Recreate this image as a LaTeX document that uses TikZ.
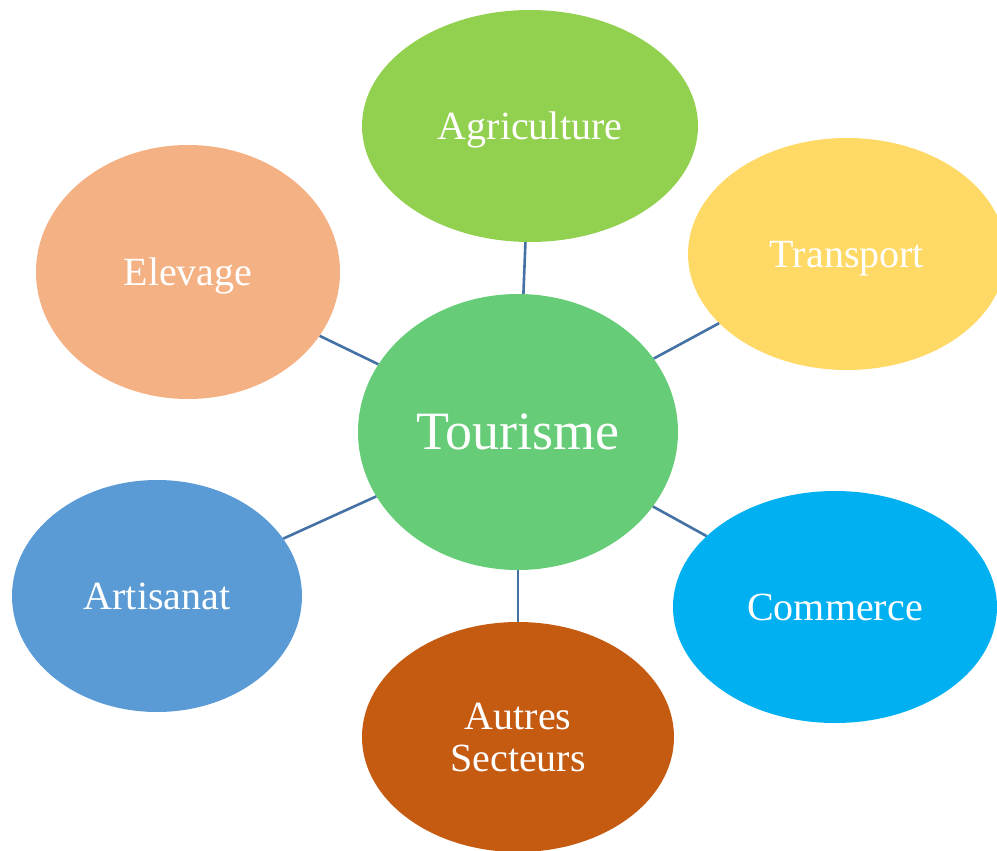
\documentclass[tikz,border=0pt]{standalone}
\usepackage{fontspec}
\setmainfont{Liberation Serif}
\usetikzlibrary{shapes.geometric}
\definecolor{cTour}{HTML}{66CC77}
\definecolor{cAgri}{HTML}{92D050}
\definecolor{cTrans}{HTML}{FFD966}
\definecolor{cElev}{HTML}{F4B183}
\definecolor{cArt}{HTML}{5B9BD5}
\definecolor{cAut}{HTML}{C55A11}
\definecolor{cCom}{HTML}{00B0F0}
\definecolor{cLine}{HTML}{4472A4}
\tikzset{
  blob/.style={ellipse, inner sep=0pt, text=white, align=center,
    font=\fontsize{40}{42}\selectfont},
  one/.style={text depth=0pt},
  link/.style={draw=cLine, line width=2.6pt}
}
\begin{document}
\begin{tikzpicture}[x=1pt,y=-1pt]
\useasboundingbox (0,0) rectangle (997,851);
\node[blob, one, fill=cTour, minimum width=320pt, minimum height=276pt,
  font=\fontsize{54}{60}\selectfont] (tour) at (518,432) {Tourisme};
\node[blob, one, fill=cAgri, minimum width=336pt, minimum height=232pt] (agri) at (530,126) {Agriculture};
\node[blob, one, fill=cTrans, minimum width=318pt, minimum height=232pt] (trans) at (847,254) {Transport};
\node[blob, one, fill=cElev, minimum width=304pt, minimum height=254pt] (elev) at (188,272) {Elevage};
\node[blob, one, fill=cArt, minimum width=290pt, minimum height=232pt] (art) at (157,596) {Artisanat};
\node[blob, fill=cAut, minimum width=312pt, minimum height=230pt] (aut) at (518,737) {Autres\\Secteurs};
\node[blob, one, fill=cCom, minimum width=324pt, minimum height=232pt] (com) at (835,607) {Commerce};
\foreach \n in {agri,trans,elev,art,aut,com}
  \draw[link] (tour) -- (\n);
\end{tikzpicture}
\end{document}
